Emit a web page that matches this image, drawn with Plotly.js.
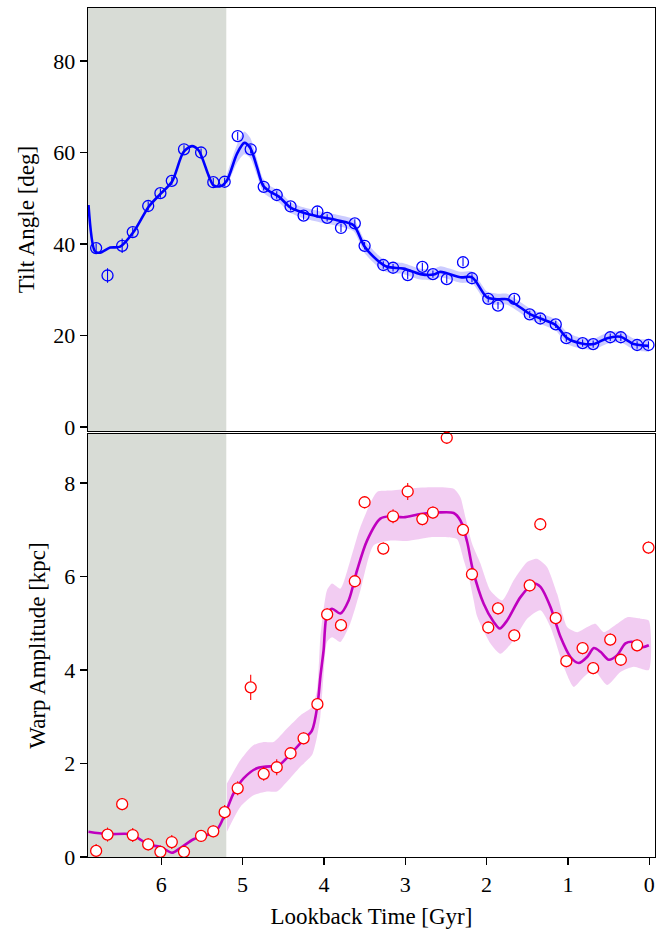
<!DOCTYPE html>
<html>
<head>
<meta charset="utf-8">
<script src="https://cdn.plot.ly/plotly-3.0.1.min.js"></script>
<style>html,body{margin:0;padding:0;background:#fff;}#chart{width:656px;height:931px;}</style>
</head>
<body>
<div id="chart"></div>
<script>
// ---- measured data (lookback time in Gyr) ----
const timeObs = [6.80,6.66,6.48,6.35,6.16,6.01,5.87,5.72,5.51,5.36,5.22,5.06,4.90,4.74,4.58,4.41,4.25,4.08,3.96,3.79,3.62,3.50,3.27,3.15,2.97,2.79,2.66,2.49,2.29,2.18,1.98,1.86,1.66,1.47,1.34,1.15,1.02,0.82,0.69,0.48,0.35,0.15,0.01];
const tiltObs = [39.1,33.1,39.6,42.6,48.3,51.1,53.8,60.7,60.0,53.5,53.6,63.6,60.7,52.5,50.7,48.2,46.2,47.1,45.7,43.5,44.5,39.6,35.4,34.8,33.2,35.0,33.4,32.3,36.0,32.5,28.0,26.5,28.0,24.6,23.7,22.4,19.4,18.3,18.1,19.6,19.6,17.9,17.9];
const tiltErr = [1.0,1.6,1.6,1.0,1.0,1.0,0.9,0.9,0.9,0.9,0.9,0.9,0.9,0.8,0.8,0.9,0.9,0.9,0.8,0.9,0.9,0.8,0.8,0.8,0.9,0.9,0.8,0.9,0.9,0.9,0.8,0.8,0.9,0.8,0.8,0.8,0.8,0.8,0.8,0.8,0.8,0.8,0.8];
const warpObs = [0.13,0.48,1.13,0.47,0.27,0.11,0.32,0.11,0.45,0.55,0.96,1.47,3.63,1.78,1.92,2.22,2.54,3.27,5.19,4.96,5.90,7.59,6.60,7.29,7.82,7.23,7.37,8.97,7.00,6.05,4.91,5.32,4.74,5.81,7.12,5.11,4.19,4.47,4.04,4.65,4.22,4.53,6.62];
const warpErr = [0.15,0.15,0.13,0.15,0.13,0.13,0.15,0.13,0.13,0.13,0.15,0.15,0.27,0.15,0.17,0.13,0.13,0.13,0.13,0.13,0.13,0.13,0.13,0.15,0.18,0.13,0.13,0.13,0.13,0.13,0.13,0.13,0.13,0.13,0.13,0.13,0.13,0.13,0.13,0.13,0.13,0.13,0.13];

// model curve, tilt angle
const tiltFitT = [6.894,6.812,6.750,6.627,6.504,6.341,6.156,6.012,5.868,5.726,5.622,5.541,5.418,5.357,5.274,5.192,5.069,4.979,4.905,4.823,4.749,4.659,4.557,4.413,4.250,4.044,3.839,3.635,3.503,3.347,3.224,3.020,2.814,2.654,2.568,2.322,2.178,1.994,1.851,1.748,1.584,1.461,1.338,1.154,1.010,0.846,0.682,0.518,0.354,0.191,0.010];
const tiltFit  = [48.5,38.3,38.1,39.2,39.4,42.6,48.1,50.9,53.6,60.1,61.4,60.5,55.0,52.8,52.6,53.9,59.7,62.1,61.0,56.8,52.8,51.4,50.4,48.0,46.8,45.9,45.2,44.1,39.5,36.5,35.0,34.6,33.4,33.3,33.9,32.7,32.7,28.3,27.9,27.9,26.1,24.6,23.7,22.3,19.4,18.3,18.1,19.4,19.7,18.1,17.7];
// half-width of the tilt uncertainty band (only drawn for t <= 5.2 Gyr)
const tiltBandHalf = [0,0,0,0,0,0,0,0,0,0,0,0,0,0,0,1.4,2.0,2.5,2.2,1.8,1.5,1.3,1.3,1.2,1.2,1.2,1.2,1.3,1.4,1.3,1.2,1.2,1.2,1.2,1.2,1.2,1.3,1.3,1.2,1.2,1.2,1.2,1.2,1.2,1.3,1.2,1.2,1.2,1.2,1.2,1.2];

// model curve, warp amplitude
const warpFitT = [6.894,6.668,6.381,6.279,6.156,6.012,5.868,5.766,5.603,5.438,5.315,5.213,5.111,4.988,4.823,4.659,4.577,4.413,4.250,4.146,4.077,4.044,4.004,3.962,3.900,3.798,3.696,3.593,3.470,3.306,3.183,3.020,2.814,2.609,2.405,2.322,2.240,2.170,2.036,1.913,1.839,1.748,1.584,1.421,1.338,1.215,1.092,0.969,0.867,0.764,0.682,0.600,0.498,0.395,0.293,0.191,0.087,0.006];
const warpFit  = [0.54,0.49,0.49,0.40,0.26,0.22,0.09,0.19,0.38,0.47,0.58,0.93,1.36,1.68,1.90,1.94,1.93,2.20,2.51,2.71,3.28,3.85,4.42,5.19,5.31,5.21,5.49,6.13,6.77,7.24,7.29,7.27,7.34,7.37,7.36,7.20,6.75,6.15,5.42,5.03,4.89,5.06,5.56,5.85,5.78,5.35,4.71,4.28,4.15,4.28,4.47,4.39,4.22,4.32,4.57,4.60,4.49,4.53];
// warp uncertainty band edges
const warpUpT = [5.192,5.028,4.868,4.742,4.619,4.454,4.290,4.146,4.085,4.044,4.004,3.962,3.900,3.798,3.675,3.552,3.347,3.183,2.978,2.691,2.405,2.322,2.261,2.178,2.076,1.953,1.809,1.667,1.502,1.379,1.256,1.133,1.010,0.887,0.764,0.662,0.560,0.395,0.272,0.108,0.006];
const warpUp  = [1.57,2.07,2.39,2.46,2.46,2.75,3.03,3.21,3.57,4.70,5.30,5.71,5.85,5.74,6.35,7.06,7.81,7.84,7.88,7.91,7.88,7.70,7.27,6.70,6.28,5.70,5.49,5.92,6.31,6.38,6.20,5.63,4.92,4.81,4.92,4.99,4.81,4.99,5.13,5.10,5.06];
const warpLoT = [5.192,5.028,4.865,4.700,4.577,4.454,4.290,4.146,4.085,4.044,4.004,3.962,3.900,3.798,3.675,3.552,3.388,3.183,2.978,2.691,2.486,2.363,2.281,2.220,2.160,2.117,1.953,1.830,1.667,1.502,1.338,1.215,1.052,0.929,0.806,0.682,0.518,0.354,0.191,0.006];
const warpLo  = [0.54,1.07,1.32,1.40,1.40,1.61,1.93,2.18,2.57,3.00,3.90,4.60,4.70,4.60,5.00,5.70,6.67,6.77,6.76,6.84,6.84,6.80,6.35,6.00,5.50,5.15,4.57,4.35,4.64,5.10,5.28,4.92,4.07,3.64,3.85,4.00,3.68,3.96,4.07,4.00];

const shadeStart = 6.9, shadeEnd = 5.2;
const xTicks = [0,1,2,3,4,5,6];
const tiltTicks = [0,20,40,60,80];
const warpTicks = [0,2,4,6,8];

// ---- build traces ----
const bx = [], bu = [], bl = [];
tiltFitT.forEach((t,i)=>{ if (t <= 5.2) { bx.push(t); bu.push(tiltFit[i]+tiltBandHalf[i]); bl.push(tiltFit[i]-tiltBandHalf[i]); } });
const tiltBand = {
  x: bx.concat(bx.slice().reverse()), y: bu.concat(bl.slice().reverse()),
  xaxis:'x', yaxis:'y', type:'scatter', mode:'lines', fill:'toself',
  fillcolor:'rgba(0,0,255,0.2)', line:{width:0, shape:'spline', smoothing:0.6}, hoverinfo:'skip', showlegend:false
};
const tiltLine = {x:tiltFitT, y:tiltFit, xaxis:'x', yaxis:'y', type:'scatter', mode:'lines',
  line:{color:'#0000ff', width:2.6, shape:'spline', smoothing:0.8}, showlegend:false};
const tiltPts = {x:timeObs, y:tiltObs, xaxis:'x', yaxis:'y', type:'scatter', mode:'markers',
  error_y:{type:'data', array:tiltErr, visible:true, color:'#0000ff', thickness:1.1, width:0},
  marker:{symbol:'circle-open', size:11, color:'#0000ff', line:{width:1.3, color:'#0000ff'}}, showlegend:false};

const warpBand = {
  x: warpUpT.concat(warpLoT.slice().reverse()), y: warpUp.concat(warpLo.slice().reverse()),
  xaxis:'x2', yaxis:'y2', type:'scatter', mode:'lines', fill:'toself',
  fillcolor:'rgba(191,0,191,0.2)', line:{width:0, shape:'spline', smoothing:0.6}, hoverinfo:'skip', showlegend:false
};
const warpLine = {x:warpFitT, y:warpFit, xaxis:'x2', yaxis:'y2', type:'scatter', mode:'lines',
  line:{color:'#bf00bf', width:2.6, shape:'spline', smoothing:0.8}, showlegend:false};
const warpPts = {x:timeObs, y:warpObs, xaxis:'x2', yaxis:'y2', type:'scatter', mode:'markers', cliponaxis:false,
  error_y:{type:'data', array:warpErr, visible:true, color:'#ff0000', thickness:1.1, width:0},
  marker:{symbol:'circle', size:11, color:'#ffffff', line:{width:1.3, color:'#ff0000'}}, showlegend:false};

const fam = '"Liberation Serif", "DejaVu Serif", serif';
const tickFnt = {family:fam, size:22, color:'#000'};
const titleFnt = {family:fam, size:23, color:'#000'};
const axBase = {showline:true, mirror:true, linecolor:'#000', linewidth:1.4, showgrid:false, zeroline:false,
  ticks:'outside', ticklen:7, tickwidth:1.3, tickcolor:'#000', tickfont:tickFnt};

const layout = {
  width:656, height:931, margin:{l:88, r:1, t:8, b:74},
  paper_bgcolor:'#fff', plot_bgcolor:'#fff', font:tickFnt, showlegend:false,
  xaxis: Object.assign({}, axBase, {domain:[0,1], anchor:'y', range:[shadeStart,-0.07], autorange:false,
    tickvals:xTicks, ticks:'', showticklabels:false}),
  yaxis: Object.assign({}, axBase, {domain:[0.5018,1], anchor:'x', range:[-0.9,91.6], autorange:false,
    tickvals:tiltTicks, title:{text:'Tilt Angle [deg]', font:titleFnt, standoff:12}}),
  xaxis2: Object.assign({}, axBase, {domain:[0,1], anchor:'y2', range:[shadeStart,-0.07], autorange:false,
    tickvals:xTicks, title:{text:'Lookback Time [Gyr]', font:titleFnt, standoff:12}}),
  yaxis2: Object.assign({}, axBase, {domain:[0,0.4982], anchor:'x2', range:[0,9.05], autorange:false,
    tickvals:warpTicks, title:{text:'Warp Amplitude [kpc]', font:titleFnt, standoff:12}}),
  shapes: [
    {type:'rect', xref:'x', yref:'y domain', x0:shadeStart, x1:shadeEnd, y0:0, y1:1, fillcolor:'#d8dcd6', line:{width:0}, layer:'below'},
    {type:'rect', xref:'x2', yref:'y2 domain', x0:shadeStart, x1:shadeEnd, y0:0, y1:1, fillcolor:'#d8dcd6', line:{width:0}, layer:'below'}
  ]
};

Plotly.newPlot('chart', [tiltBand, tiltLine, tiltPts, warpBand, warpLine, warpPts], layout, {staticPlot:true, displayModeBar:false});
</script>
</body>
</html>
